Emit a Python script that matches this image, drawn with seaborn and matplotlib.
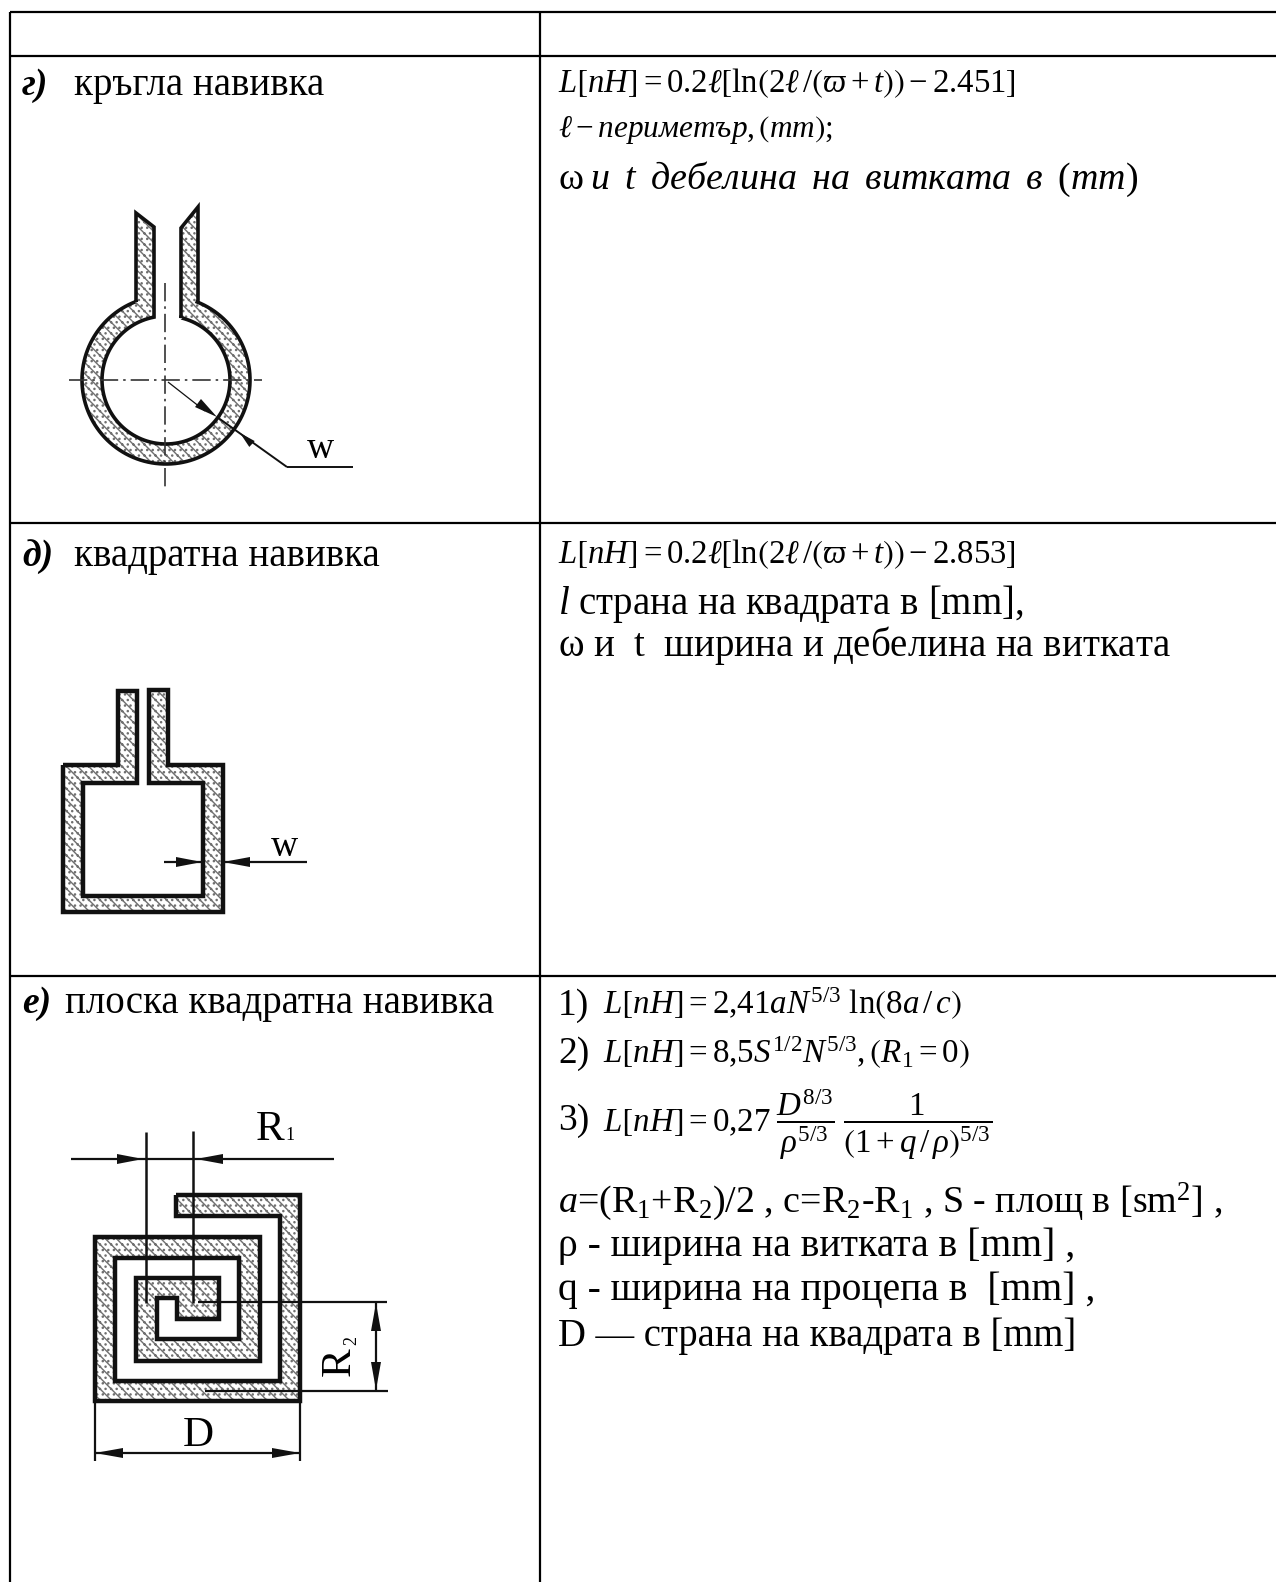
import numpy as np
import pandas as pd
import matplotlib
matplotlib.use("Agg")
import matplotlib.pyplot as plt
import seaborn as sns

sns.set_theme(style="white")
plt.rcParams["font.family"] = ["Liberation Serif", "DejaVu Serif"]
plt.rcParams["mathtext.fontset"] = "custom"
plt.rcParams["mathtext.rm"] = "Liberation Serif"
plt.rcParams["mathtext.it"] = "Liberation Serif:italic"
plt.rcParams["mathtext.bf"] = "Liberation Serif:bold"
plt.rcParams["mathtext.fallback"] = "stix"
plt.rcParams["hatch.linewidth"] = 1.0

# table rules, in picture pixels
table_x = [10, 540, 1276]
table_y = [12, 56, 523, 976, 1582]

# round coil
ring_c = (166, 380)
ring_r = [64, 84]
ring_left = [(136, 302), (136, 213), (154, 227), (154, 317)]
ring_right = [(181, 318), (181, 228), (198, 207), (198, 300)]

# square coil
square = [(63, 765), (118, 765), (118, 691), (137, 691), (137, 783), (83, 783), (83, 896),
          (203, 896), (203, 783), (149, 783), (149, 690), (168, 690), (168, 765), (223, 765),
          (223, 912), (63, 912), (63, 765)]

# flat square spiral
spiral = [(176, 1195), (300, 1195), (300, 1401), (95, 1401), (95, 1237), (260, 1237), (260, 1361),
          (136, 1361), (136, 1278), (219, 1278), (219, 1319), (177, 1319), (177, 1298), (157, 1298),
          (157, 1339), (239, 1339), (239, 1258), (115, 1258), (115, 1381), (280, 1381), (280, 1216),
          (176, 1216), (176, 1195)]

# thin dimension lines: (x0, y0, x1, y1, width)
dim_lines = [
    (287, 467, 217, 417, 1.4), (287, 467, 353, 467, 1.4), (168, 382, 205, 411, 0.9),
    (164, 862, 202, 862, 1.6), (223, 862, 307, 862, 1.6),
    (146, 1132, 146, 1303, 1.8), (193, 1131, 193, 1303, 1.8),
    (71, 1159, 334, 1159, 1.6),
    (198, 1302, 387, 1302, 1.6), (205, 1391, 388, 1391, 1.6), (376, 1303, 376, 1390, 1.6),
    (95, 1401, 95, 1461, 1.6), (300, 1401, 300, 1461, 1.6), (95, 1453, 300, 1453, 1.6),
]
# arrow heads: (tip x, tip y, base x, base y, half width)
heads = [
    (217, 417, 198, 403, 5), (240, 433, 252, 444, 4),
    (202, 862, 176, 862, 5), (223, 862, 250, 862, 5),
    (143, 1159, 117, 1159, 5), (196, 1159, 223, 1159, 5),
    (376, 1303, 376, 1331, 5), (376, 1390, 376, 1362, 5),
    (95, 1453, 123, 1453, 5), (300, 1453, 272, 1453, 5),
]
# centre lines of the round coil
centre_h = [(69, 380), (262, 380)]
centre_v = [(165, 283), (165, 490)]

# x of head, baseline y, head text, x of rest, rest text
left_rows = [
    (22, 95, "г)", 74, "кръгла навивка"),
    (22, 566, "д)", 74, "квадратна навивка"),
    (22, 1013, "е)", 65, "плоска квадратна навивка"),
]

# (x, baseline y, text, size in pt)
right_lines = [
    (558, 92, r"$L\left[nH\right]=0.2\ell\left[\mathrm{ln}\left(2\ell\,/\left(\varpi+t\right)\right)-2.451\right]$", 23.6),
    (558, 137, r"$\ell-периметър,\left(mm\right);$", 22.5),
    (558, 189, r"$\mathrm{\omega}\;и\;\;t\;\;дебелина\;\;на\;\;витката\;\;в\;\;(mm)$", 27.4),
    (558, 563, r"$L\left[nH\right]=0.2\ell\left[\mathrm{ln}\left(2\ell\,/\left(\varpi+t\right)\right)-2.853\right]$", 23.6),
    (558, 614, r"$l$ страна на квадрата в [mm],", 28),
    (558, 656, r"$\mathrm{\omega}$ и  t  ширина и дебелина на витката", 28),
    (558, 1015, r"1)", 27),
    (558, 1063, r"2)", 27),
    (558, 1130, r"3)", 27),
    (603, 1014, r"$L\left[nH\right]=2{,}41aN^{5/3}\ \mathrm{ln}\left(8a\,/\,c\right)$", 23.8),
    (603, 1063, r"$L\left[nH\right]=8{,}5S^{1/2}N^{5/3},\left(R_1=0\right)$", 23.8),
    (603, 1132, r"$L\left[nH\right]=0{,}27\;\dfrac{D^{8/3}}{\rho^{5/3}}\;\dfrac{\,1\,}{\left(1+q\,/\,\rho\right)^{5/3}}$", 23.8),
    (558, 1212, r"$a$=$($R$_1$+R$_2$)/2 , c=R$_2$-R$_1$ , S - площ в [sm$^2$] ,", 27.4),
    (558, 1256, r"ρ - ширина на витката в [mm] ,", 28.5),
    (558, 1300, r"q - ширина на процепа в  [mm] ,", 28.5),
    (558, 1346, r"D — страна на квадрата в [mm]", 27.8),
]

# labels on the drawings: (x, y, text, size, rotation)
draw_labels = [
    (320, 458, "w", 27, 0), (284, 856, "w", 27, 0),
    (270, 1140, "R", 31, 0), (290, 1140, "1", 13, 0), (198, 1446, "D", 31, 0),
    (350, 1376, "R", 31, 90), (356, 1345, "2", 13, 90),
]


def stroke(ax, pts, lw, color="#111111", **kw):
    df = pd.DataFrame(pts, columns=["x", "y"])
    sns.lineplot(data=df, x="x", y="y", sort=False, estimator=None, ax=ax, color=color,
                 linewidth=lw, legend=False, solid_capstyle="butt", solid_joinstyle="miter", **kw)


def hatched(ax, pts, lw):
    xs, ys = zip(*pts)
    ax.fill(xs, ys, facecolor="white", edgecolor="#707070", hatch="\\\\\\...", linewidth=0)
    stroke(ax, pts, lw)


fig = plt.figure(figsize=(12.76, 15.82), dpi=100)
ax = fig.add_axes([0, 0, 1, 1])

# table
stroke(ax, [(table_x[0], table_y[0]), (table_x[2], table_y[0])], 1.6, "black")
for y in table_y[1:4]:
    stroke(ax, [(table_x[0], y), (table_x[2], y)], 1.6, "black")
for x in table_x[:2]:
    stroke(ax, [(x, table_y[0]), (x, table_y[4])], 1.6, "black")

# round coil outline
cx, cy = ring_c
a_out0 = np.arctan2(ring_right[3][1] - cy, ring_right[3][0] - cx)
a_out1 = np.arctan2(ring_left[0][1] - cy, ring_left[0][0] - cx)
a_in0 = np.arctan2(ring_left[3][1] - cy, ring_left[3][0] - cx)
a_in1 = np.arctan2(ring_right[0][1] - cy, ring_right[0][0] - cx)
# screen y points down, so going right -> bottom -> left means increasing angle
outer_t = np.linspace(a_out0, a_out1 + 2 * np.pi, 120)
inner_t = np.linspace(a_in0 + 2 * np.pi, a_in1, 120)
outer = [(cx + ring_r[1] * np.cos(t), cy + ring_r[1] * np.sin(t)) for t in outer_t]
inner = [(cx + ring_r[0] * np.cos(t), cy + ring_r[0] * np.sin(t)) for t in inner_t]
ring = ring_left + inner + ring_right + outer + [ring_left[0]]
hatched(ax, ring, 2.6)
for seg in (centre_h, centre_v):
    df = pd.DataFrame(seg, columns=["x", "y"])
    sns.lineplot(data=df, x="x", y="y", sort=False, estimator=None, ax=ax, color="#333333",
                 linewidth=1.2, legend=False, dashes=[(11, 3, 1.5, 3)], style=[0, 0])

hatched(ax, square, 3.2)
hatched(ax, spiral, 3.2)

for x0, y0, x1, y1, w in dim_lines:
    stroke(ax, [(x0, y0), (x1, y1)], w)
for tx, ty, bx, by, hw in heads:
    d = np.array([tx - bx, ty - by], dtype=float)
    n = np.array([-d[1], d[0]]) / np.hypot(*d) * hw
    ax.fill([tx, bx + n[0], bx - n[0]], [ty, by + n[1], by - n[1]], color="#111111", lw=0)

# text
for x, y, head, x2, rest in left_rows:
    ax.text(x, y, head, fontsize=27, fontweight="bold", fontstyle="italic", va="baseline", color="black")
    ax.text(x2, y, rest, fontsize=28, va="baseline", color="black")
for x, y, s, size in right_lines:
    ax.text(x, y, s, fontsize=size, va="baseline", color="black")
for x, y, s, size, rot in draw_labels:
    if rot:
        ax.text(x, y, s, fontsize=size, rotation=rot, va="baseline", ha="left",
                rotation_mode="anchor", color="black")
    else:
        ax.text(x, y, s, fontsize=size, va="baseline", ha="center", color="black")

ax.set_xlim(0, 1276)
ax.set_ylim(1582, 0)
ax.axis("off")
fig.savefig("out.png", dpi=100, facecolor="white")
